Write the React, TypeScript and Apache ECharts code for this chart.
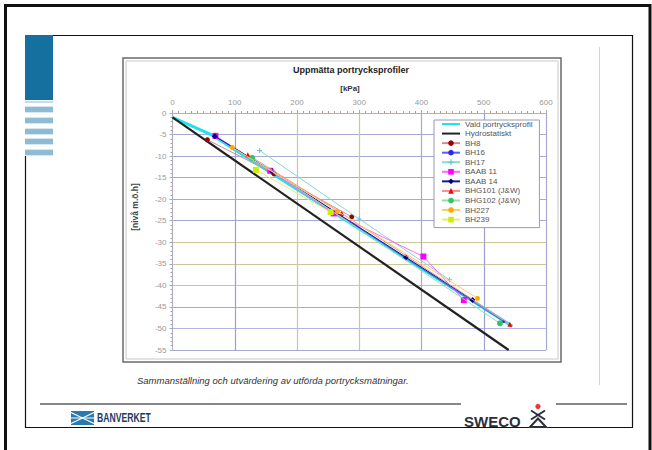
import React, { useEffect, useRef } from 'react';
import * as echarts from 'echarts';

// ---------- data (kPa, level m.ö.h) ----------
const seriesNames = [
  'Vald portrycksprofil',
  'Hydrostatiskt',
  'BH8',
  'BH16',
  'BH17',
  'BAAB 11',
  'BAAB 14',
  'BHG101 (J&W)',
  'BHG102 (J&W)',
  'BH227',
  'BH239',
];
const valdProfil = [[0, -1], [62, -5], [546, -49.5]];
const hydrostatiskt = [[0, -1], [540, -55]];
const bh8 = [[56, -6.2], [163, -14.1], [288, -24.1]];
const bh16 = [[70, -5.5], [160, -13.6], [532, -48.4]];
const bh17 = [[140, -8.7], [300, -24.6], [445, -38.7]];
const baab11 = [[69, -5.3], [157, -13.4], [259, -23.3], [403, -33.3], [468, -43.4]];
const baab14 = [[68, -5.4], [160, -13.5], [375, -33.5], [482, -43.4]];
const bhg101 = [[121, -9.7], [272, -23.3], [542, -49.0]];
const bhg102 = [[128, -10.4], [526, -48.8]];
const bh227 = [[96, -8.0], [265, -22.8], [490, -43.0]];
const bh239 = [[134, -13.2], [254, -23.0]];

const xMin = 0;
const xMax = 600;
const xStep = 100;
const yMin = -55;
const yMax = 0;
const yStep = 5;

const titleText = 'Uppmätta portrycksprofiler';
const xName = '[kPa]';
const yName = '[nivå m.ö.h]';
const captionText = 'Sammanställning och utvärdering av utförda portrycksmätningar.';

const FONT = '"Liberation Sans", Arial, sans-serif';
const PLUS = 'path://M4,0h2v4h4v2h-4v4h-2v-4h-4v-2h4z';

export default function App() {
  const ref = useRef<HTMLDivElement>(null);
  useEffect(() => {
    document.body.style.margin = '0';
    const chart = echarts.init(ref.current!, null, { renderer: 'svg' });

    const mk = (
      i: number,
      data: number[][],
      lineColor: string,
      width: number,
      symbol: string,
      symbolSize: number,
      symbolColor: string,
    ) => ({
      name: seriesNames[i],
      type: 'line',
      data,
      symbol,
      symbolSize,
      showSymbol: symbolSize > 0,
      lineStyle: { color: lineColor, width },
      itemStyle: { color: symbolColor },
      emphasis: { disabled: true },
      z: 2 + i * 0.01,
    });

    const series = [
      mk(0, valdProfil, '#1ee3ee', 3, 'circle', 0, 'rgba(0,0,0,0)'),
      mk(1, hydrostatiskt, '#222222', 2.2, 'circle', 0, 'rgba(0,0,0,0)'),
      mk(2, bh8, '#d48a96', 1, 'circle', 5, '#990000'),
      mk(3, bh16, '#5a5aff', 1, 'circle', 3, '#2a2aee'),
      mk(4, bh17, '#88d6d6', 1, PLUS, 5, '#66c2c2'),
      mk(5, baab11, '#ff66ff', 1, 'rect', 6, '#ff00ff'),
      mk(6, baab14, '#1a1a8a', 1, 'diamond', 6, '#000080'),
      mk(7, bhg101, '#ff8a8a', 1, 'triangle', 5, '#ff0000'),
      mk(8, bhg102, '#96dcaa', 1, 'circle', 6, '#33c466'),
      mk(9, bh227, '#ffcc66', 1, 'circle', 5, '#ffaa00'),
      mk(10, bh239, '#e0f070', 1, 'rect', 6, '#ccee00'),
    ];

    const ySplitColors = [
      '#a8a8d0', '#b4b4e0', '#a8a8d0', '#c8c898', '#c8c898', '#c8c898',
      '#a8a8d0', '#a8a8d0', '#a8a8d0', '#a8a8d0', '#a8a8d0', '#c8b898',
    ];
    const xSplitColors = ['#c8b898', '#a0a0cc', '#c8c898', '#c8c898', '#b0a8b8', '#a0a0cc', '#a8a8d0'];

    const stripesY = [107, 118, 129, 139, 150];

    const graphic: any[] = [
      // outer frame
      { type: 'rect', shape: { x: 5.5, y: 5.5, width: 644.5, height: 470 }, style: { fill: 'none', stroke: '#111', lineWidth: 3 }, z: 0 },
      // inner slide frame
      { type: 'polyline', shape: { points: [[53, 35.5], [632.5, 35.5], [632.5, 427.5], [25.5, 427.5], [25.5, 156]] }, style: { fill: 'none', stroke: '#111', lineWidth: 1.2 }, z: 0 },
      // blue block
      { type: 'rect', shape: { x: 25, y: 35, width: 28, height: 65 }, style: { fill: '#16709f' }, z: 0 },
      { type: 'rect', shape: { x: 25, y: 101, width: 28, height: 2 }, style: { fill: '#c6dcea' }, z: 0 },
      ...stripesY.flatMap((y) => [
        { type: 'rect', shape: { x: 25, y: y - 1, width: 28, height: 7 }, style: { fill: '#d6e7f1' }, z: 0 },
        { type: 'rect', shape: { x: 25, y, width: 28, height: 5 }, style: { fill: '#8fbad3' }, z: 0 },
      ]),
      // pink vertical line
      { type: 'line', shape: { x1: 599.5, y1: 47, x2: 599.5, y2: 385 }, style: { stroke: '#f5c8c8', lineWidth: 1 }, z: 0 },
      // chart box
      { type: 'rect', shape: { x: 123, y: 58, width: 438, height: 304 }, style: { fill: 'none', stroke: '#6a6a6a', lineWidth: 1.5 }, z: 0 },
      { type: 'rect', shape: { x: 126, y: 61, width: 432, height: 298 }, style: { fill: 'none', stroke: '#c8c8c8', lineWidth: 1 }, z: 0 },
      // titles
      { type: 'text', x: 351, y: 70, style: { text: titleText, fontFamily: FONT, fontSize: 9, fontWeight: 'bold', fill: '#222', align: 'center', verticalAlign: 'middle' }, z: 5 },
      { type: 'text', x: 350, y: 88, style: { text: xName, fontFamily: FONT, fontSize: 8, fontWeight: 'bold', fill: '#333', align: 'center', verticalAlign: 'middle' }, z: 5 },
      { type: 'text', x: 135, y: 207, rotation: Math.PI / 2, style: { text: yName, fontFamily: FONT, fontSize: 8.5, fontWeight: 'bold', fill: '#444', align: 'center', verticalAlign: 'middle' }, z: 5 },
      // caption
      { type: 'text', x: 137, y: 380, style: { text: captionText, fontFamily: FONT, fontSize: 9.5, fontStyle: 'italic', fill: '#333', align: 'left', verticalAlign: 'middle' }, z: 5 },
      // footer lines
      { type: 'line', shape: { x1: 40, y1: 404, x2: 461, y2: 404 }, style: { stroke: '#111', lineWidth: 1.2 }, z: 0 },
      { type: 'line', shape: { x1: 556, y1: 404, x2: 627, y2: 404 }, style: { stroke: '#111', lineWidth: 1.2 }, z: 0 },
      // Banverket logo
      { type: 'rect', shape: { x: 71, y: 411, width: 23, height: 14 }, style: { fill: '#2a7ab0' }, z: 0 },
      { type: 'line', shape: { x1: 71, y1: 412.5, x2: 94, y2: 423.5 }, style: { stroke: '#fff', lineWidth: 1.3 }, z: 1 },
      { type: 'line', shape: { x1: 71, y1: 423.5, x2: 94, y2: 412.5 }, style: { stroke: '#fff', lineWidth: 1.3 }, z: 1 },
      { type: 'line', shape: { x1: 71, y1: 418, x2: 94, y2: 418 }, style: { stroke: '#fff', lineWidth: 1 }, z: 1 },
      { type: 'text', x: 97, y: 418, scaleX: 0.72, style: { text: 'BANVERKET', fontFamily: FONT, fontSize: 12, fontWeight: 'bold', fill: '#1c3a66', align: 'left', verticalAlign: 'middle' }, z: 5 },
      // Sweco logo
      { type: 'text', x: 464, y: 421, style: { text: 'SWECO', fontFamily: FONT, fontSize: 15, fontWeight: 'bold', fill: '#2d2f3a', align: 'left', verticalAlign: 'middle' }, z: 5 },
      { type: 'circle', shape: { cx: 538, cy: 406.5, r: 2.6 }, style: { fill: '#e8383d' }, z: 1 },
      { type: 'line', shape: { x1: 531, y1: 410.5, x2: 545, y2: 419.5 }, style: { stroke: '#2d2f3a', lineWidth: 2 }, z: 1 },
      { type: 'line', shape: { x1: 545, y1: 410.5, x2: 531, y2: 419.5 }, style: { stroke: '#2d2f3a', lineWidth: 2 }, z: 1 },
      { type: 'polygon', shape: { points: [[538, 418.5], [546, 427], [530, 427]] }, style: { fill: 'none', stroke: '#2d2f3a', lineWidth: 2 }, z: 1 },
    ];

    chart.setOption({
      animation: false,
      backgroundColor: '#ffffff',
      graphic,
      grid: { left: 172.5, top: 113, width: 373.5, height: 237, containLabel: false },
      legend: {
        data: seriesNames,
        orient: 'vertical',
        left: 434,
        top: 120,
        padding: [0, 7, 4, 7],
        itemWidth: 18,
        itemHeight: 7,
        itemGap: 1.56,
        borderColor: '#9a9ab4',
        borderWidth: 1,
        backgroundColor: '#ffffff',
        selectedMode: false,
        textStyle: { fontFamily: FONT, fontSize: 8, color: '#555', lineHeight: 8 },
      },
      xAxis: {
        type: 'value',
        position: 'top',
        min: xMin,
        max: xMax,
        interval: xStep,
        axisLine: { show: true, lineStyle: { color: '#bbb0a0', width: 1 } },
        axisTick: { show: true, length: 3, lineStyle: { color: '#aaa' } },
        minorTick: { show: true, splitNumber: 10, length: 2, lineStyle: { color: '#c49a80' } },
        axisLabel: { fontFamily: FONT, fontSize: 8, color: '#999', margin: 7 },
        splitLine: { show: true, lineStyle: { color: xSplitColors, width: 1.2 } },
      },
      yAxis: {
        type: 'value',
        min: yMin,
        max: yMax,
        interval: yStep,
        axisLine: { show: true, lineStyle: { color: '#b0b0c0', width: 1 } },
        axisTick: { show: true, length: 3, lineStyle: { color: '#aaa' } },
        minorTick: { show: true, splitNumber: 5, length: 2, lineStyle: { color: '#b0a0b0' } },
        axisLabel: { fontFamily: FONT, fontSize: 8, color: '#999', margin: 6 },
        splitLine: { show: true, lineStyle: { color: ySplitColors, width: 1.2 } },
      },
      series,
    });
    return () => chart.dispose();
  }, []);
  return (
    <div
      ref={ref}
      style={{ position: 'absolute', left: 0, top: 0, width: 652, height: 450, background: '#fff' }}
    />
  );
}
